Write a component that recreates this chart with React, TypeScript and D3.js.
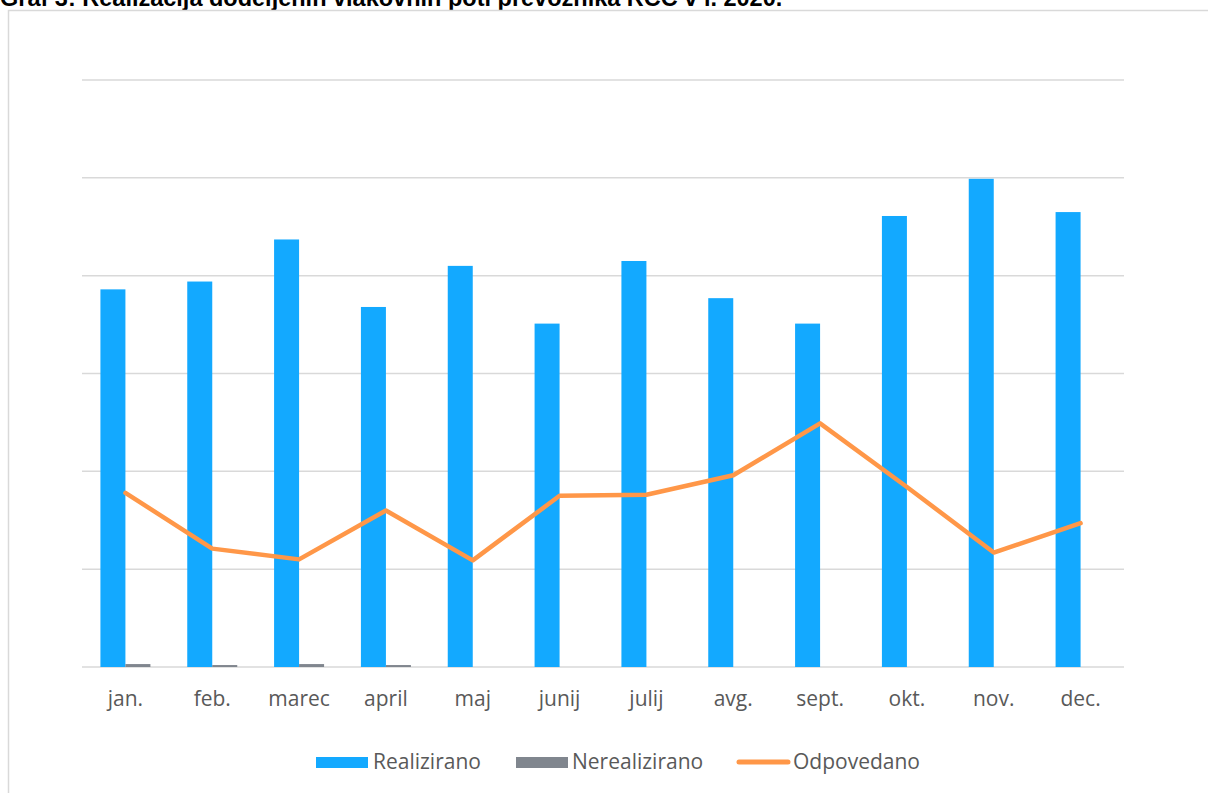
import React from "react";
import * as d3 from "d3";

const months = ["jan.", "feb.", "marec", "april", "maj", "junij", "julij", "avg.", "sept.", "okt.", "nov.", "dec."];
const realizirano = [386, 394, 437, 368, 410, 351, 415, 377, 351, 461, 499, 465];
const nerealizirano = [3, 2, 3, 2, 0, 0, 0, 0, 0, 0, 0, 0];
const odpovedano = [178, 121, 110, 160, 109, 175, 176, 196, 249, 184, 117, 147];
const yTicks = [0, 100, 200, 300, 400, 500, 600];
const seriesNames = ["Realizirano", "Nerealizirano", "Odpovedano"];
const title = "Graf 3: Realizacija dodeljenih vlakovnih poti prevoznika RCC v l. 2020.";

const W = 1208;
const H = 793;
const BLUE = "#13A9FF";
const GRAY = "#80868E";
const ORANGE = "#FF9748";
const GRID = "#D9D9D9";
const TEXT = "#595959";
const FONT = "'Open Sans', 'Noto Sans', sans-serif";

export default function App() {
  const x = d3.scaleBand<string>().domain(months).range([82, 1124]).padding(0);
  const x1 = d3.scaleBand<string>().domain(seriesNames.slice(0, 2)).range([-25, 25]).padding(0);
  const y = d3.scaleLinear().domain([0, 600]).range([667, 80]);
  const cx = (m: string) => (x(m) as number) + x.bandwidth() / 2;
  const line = d3
    .line<number>()
    .x((_, i) => cx(months[i]))
    .y((d) => y(d));

  const barSeries = [
    { name: seriesNames[0], values: realizirano, color: BLUE },
    { name: seriesNames[1], values: nerealizirano, color: GRAY },
  ];

  return (
    <svg
      width={W}
      height={H}
      style={{ position: "absolute", left: 0, top: 0, background: "#fff" }}
    >
      <text x={0} y={6} fontFamily="'Liberation Sans', Arial, sans-serif" fontWeight="bold" fontSize={23.5} fill="#000">
        {title}
      </text>
      <rect x={8.5} y={10.5} width={W + 20} height={H + 20} fill="none" stroke={GRID} strokeWidth={1.5} />
      {yTicks.map((t) => (
        <line key={t} x1={82} x2={1124} y1={y(t)} y2={y(t)} stroke={GRID} strokeWidth={1.5} />
      ))}
      {barSeries.map((s) =>
        s.values.map((v, i) => (
          <rect
            key={s.name + i}
            x={cx(months[i]) + (x1(s.name) as number)}
            y={y(v)}
            width={x1.bandwidth()}
            height={y(0) - y(v)}
            fill={s.color}
          />
        ))
      )}
      <path d={line(odpovedano) || ""} fill="none" stroke={ORANGE} strokeWidth={4.5} strokeLinejoin="round" strokeLinecap="round" />
      {months.map((m) => (
        <text key={m} x={cx(m)} y={706} textAnchor="middle" fontFamily={FONT} fontSize={21} fill={TEXT}>
          {m}
        </text>
      ))}
      <g fontFamily={FONT} fontSize={21} fill={TEXT}>
        <rect x={316} y={757} width={52} height={11} fill={BLUE} />
        <text x={373} y={769}>{seriesNames[0]}</text>
        <rect x={516} y={757} width={52} height={11} fill={GRAY} />
        <text x={572} y={769}>{seriesNames[1]}</text>
        <line x1={739} x2={788} y1={762} y2={762} stroke={ORANGE} strokeWidth={5} strokeLinecap="round" />
        <text x={793} y={769}>{seriesNames[2]}</text>
      </g>
    </svg>
  );
}
